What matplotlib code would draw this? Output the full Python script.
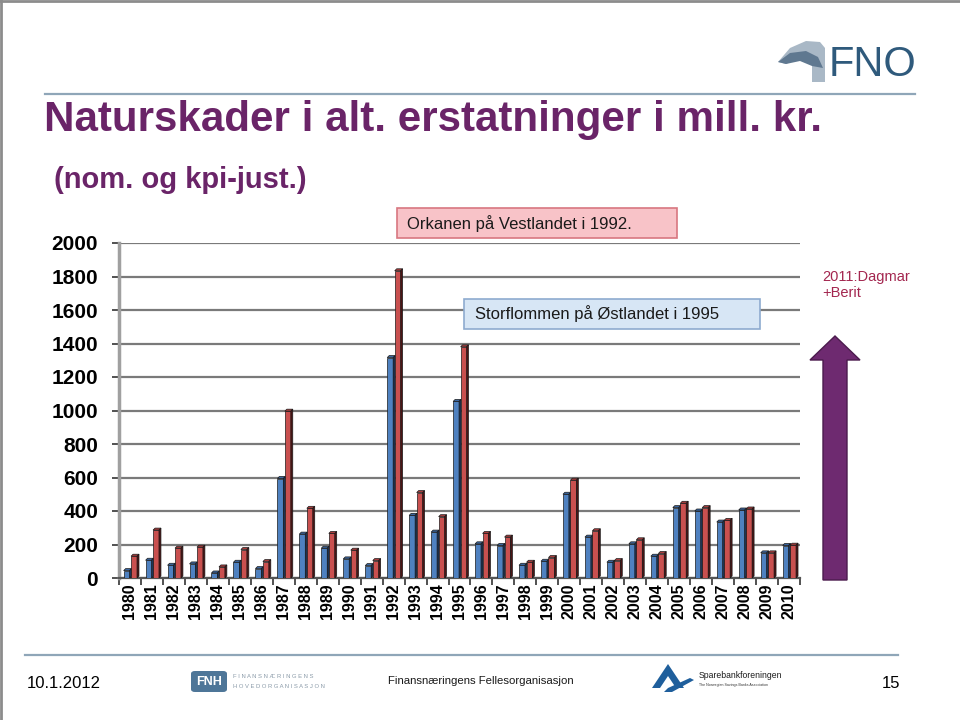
import matplotlib
matplotlib.use("Agg")
import matplotlib.pyplot as plt
from matplotlib.patches import Rectangle, FancyBboxPatch, Polygon
import numpy as np

plt.rcParams['font.family'] = ['Liberation Sans', 'DejaVu Sans']

years = ['1980', '1981', '1982', '1983', '1984', '1985', '1986', '1987', '1988', '1989',
         '1990', '1991', '1992', '1993', '1994', '1995', '1996', '1997', '1998', '1999',
         '2000', '2001', '2002', '2003', '2004', '2005', '2006', '2007', '2008', '2009', '2010']
nominal = [44, 106, 76, 84, 30, 94, 56, 594, 262, 178, 114, 74, 1316, 374, 274, 1054,
           204, 194, 76, 100, 500, 244, 94, 204, 130, 420, 400, 334, 406, 150, 194]
kpi_adj = [130, 286, 178, 184, 66, 170, 98, 996, 416, 266, 166, 104, 1834, 510, 366, 1380,
           266, 244, 94, 122, 584, 282, 104, 228, 146, 446, 420, 344, 412, 150, 196]
yticks = [0, 200, 400, 600, 800, 1000, 1200, 1400, 1600, 1800, 2000]

title = "Naturskader i alt. erstatninger i mill. kr."
subtitle = "(nom. og kpi-just.)"
note_1992 = "Orkanen på Vestlandet i 1992."
note_1995 = "Storflommen på Østlandet i 1995"
note_2011 = "2011:Dagmar\n+Berit"

W, H = 960, 720
fig = plt.figure(figsize=(9.6, 7.2), dpi=100)
fig.patch.set_facecolor('white')


def fx(x):
    return x / W


def fy(y):
    return 1 - y / H


TF = fig.transFigure

# page border (left & top)
fig.add_artist(plt.Line2D([fx(0.5), fx(0.5)], [0, 1], transform=TF, color='#8c8c8c', lw=2))
fig.add_artist(plt.Line2D([0, 1], [fy(0.5), fy(0.5)], transform=TF, color='#8c8c8c', lw=2))

# title rule
fig.add_artist(plt.Line2D([fx(45), fx(915)], [fy(94), fy(94)], transform=TF, color='#8fa6b8', lw=1.6))

fig.text(fx(44), fy(120), title, transform=TF, fontsize=30.3, fontweight='bold',
         color='#6a2468', va='center', ha='left')
fig.text(fx(54), fy(180), subtitle, transform=TF, fontsize=21, fontweight='bold',
         color='#6a2468', va='center', ha='left')

# FNO logo
sw = Polygon([[fx(778), fy(62)], [fx(790), fy(48)], [fx(806), fy(41)], [fx(820), fy(42)],
              [fx(825), fy(48)], [fx(825), fy(82)], [fx(812), fy(82)], [fx(812), fy(60)],
              [fx(800), fy(58)], [fx(786), fy(64)]], closed=True, transform=TF,
             facecolor='#a9b8c6', edgecolor='none')
fig.add_artist(sw)
sw2 = Polygon([[fx(778), fy(62)], [fx(790), fy(53)], [fx(806), fy(51)], [fx(818), fy(57)],
               [fx(823), fy(68)], [fx(812), fy(66)], [fx(800), fy(61)], [fx(786), fy(64)]],
              closed=True, transform=TF, facecolor='#5f7890', edgecolor='none')
fig.add_artist(sw2)
fig.text(fx(829), fy(65), "FNO", transform=TF, fontsize=30, color='#2f5a7c',
         va='center', ha='left')

# main axes
ax = fig.add_axes([fx(119), fy(578), (800 - 119) / W, (578 - 243) / H])
x = np.arange(len(years))
ax.set_xlim(-0.5, len(years) - 0.5)
ax.set_ylim(0, 2000)
ax.set_yticks(yticks)
ax.set_yticklabels([str(v) for v in yticks], fontsize=15, fontweight='bold')
ax.tick_params(axis='y', length=5, width=1.2, color='#333333', pad=10)
ax.yaxis.grid(True, color='#7a7a7a', lw=1.6, zorder=0)
ax.set_axisbelow(True)

ax.set_xticks(x)
ax.set_xticklabels(years, rotation=90, fontsize=11.5, fontweight='bold')
ax.tick_params(axis='x', length=0, pad=4)
ax.set_xticks(np.arange(-0.5, len(years) + 0.5, 1), minor=True)
ax.tick_params(axis='x', which='minor', length=5, width=1.2, color='#333333')

for s in ['top', 'right']:
    ax.spines[s].set_visible(False)
ax.spines['left'].set_color('#a0a0a0')
ax.spines['left'].set_linewidth(2.5)
ax.spines['bottom'].set_color('#555555')
ax.spines['bottom'].set_linewidth(1.6)

dx, dy = 0.09, 12


def bar3d(xl, w, vals, face, top, side):
    for xi, v in zip(xl, vals):
        ax.add_patch(Rectangle((xi, 0), w, v, facecolor=face, edgecolor='#1a1a1a',
                               lw=0.5, zorder=3))
        ax.add_patch(Polygon([[xi, v], [xi + w, v], [xi + w + dx, v + dy], [xi + dx, v + dy]],
                             closed=True, facecolor=top, edgecolor='#1a1a1a', lw=0.5, zorder=3))
        ax.add_patch(Polygon([[xi + w, 0], [xi + w + dx, dy], [xi + w + dx, v + dy], [xi + w, v]],
                             closed=True, facecolor=side, edgecolor='#1a1a1a', lw=0.5, zorder=3))


bar3d(x - 0.29, 0.27, nominal, '#4f81c0', '#3b66a0', '#1d3557')
bar3d(x + 0.05, 0.27, kpi_adj, '#c9504f', '#a83c3c', '#4a1414')

# annotation boxes
b1 = FancyBboxPatch((fx(397), fy(238)), fx(280), (238 - 208) / H, boxstyle='square,pad=0',
                    transform=TF, facecolor='#f8c3c8', edgecolor='#d87780', lw=1.2)
fig.add_artist(b1)
fig.text(fx(407), fy(224), note_1992, transform=TF, fontsize=12, va='center', ha='left',
         color='#1a1a1a')
b2 = FancyBboxPatch((fx(464), fy(329)), fx(296), (329 - 299) / H, boxstyle='square,pad=0',
                    transform=TF, facecolor='#d7e6f5', edgecolor='#8eabcf', lw=1.2)
fig.add_artist(b2)
fig.text(fx(475), fy(314), note_1995, transform=TF, fontsize=12, va='center', ha='left',
         color='#1a1a1a')

fig.text(fx(822), fy(285), note_2011, transform=TF, fontsize=10.5, va='center', ha='left',
         color='#a3264f', linespacing=1.15)

arrow = Polygon([[fx(823), fy(580)], [fx(847), fy(580)], [fx(847), fy(360)], [fx(860), fy(360)],
                 [fx(835), fy(336)], [fx(810), fy(360)], [fx(823), fy(360)]], closed=True,
                transform=TF, facecolor='#6e2a70', edgecolor='#4b1b4d', lw=1)
fig.add_artist(arrow)

# footer
fig.add_artist(plt.Line2D([fx(25), fx(898)], [fy(655), fy(655)], transform=TF, color='#8fa6b8', lw=1.6))
fig.text(fx(27), fy(683), "10.1.2012", transform=TF, fontsize=12, va='center', ha='left')
fig.text(fx(900), fy(683), "15", transform=TF, fontsize=12, va='center', ha='right')

fnh = FancyBboxPatch((fx(191), fy(692)), fx(36), (692 - 671) / H,
                     boxstyle='round,pad=0,rounding_size=0.004', transform=TF,
                     facecolor='#4e7698', edgecolor='none')
fig.add_artist(fnh)
fig.text(fx(209), fy(682), "FNH", transform=TF, fontsize=9, fontweight='bold', color='white',
         va='center', ha='center')
fig.text(fx(233), fy(677), "F I N A N S N Æ R I N G E N S", transform=TF, fontsize=4.2,
         color='#8a9aa8', va='center', ha='left')
fig.text(fx(233), fy(687), "H O V E D O R G A N I S A S J O N", transform=TF, fontsize=4.2,
         color='#8a9aa8', va='center', ha='left')

fig.text(fx(388), fy(681), "Finansnæringens Fellesorganisasjon", transform=TF, fontsize=8.2,
         color='#1a1a1a', va='center', ha='left')

sb = Polygon([[fx(652), fy(688)], [fx(668), fy(664)], [fx(684), fy(688)], [fx(676), fy(688)],
              [fx(668), fy(676)], [fx(660), fy(688)]], closed=True, transform=TF,
             facecolor='#1f5f9c', edgecolor='none')
fig.add_artist(sb)
sb2 = Polygon([[fx(664), fy(692)], [fx(672), fy(692)], [fx(694), fy(680)], [fx(690), fy(678)],
               [fx(668), fy(688)]], closed=True, transform=TF, facecolor='#1f5f9c', edgecolor='none')
fig.add_artist(sb2)
fig.text(fx(699), fy(676), "Sparebankforeningen", transform=TF, fontsize=6.2,
         color='#1a1a1a', va='center', ha='left')
fig.text(fx(699), fy(685), "The Norwegian Savings Banks Association", transform=TF, fontsize=2.6,
         color='#333333', va='center', ha='left')

fig.savefig("out.png", dpi=100)
